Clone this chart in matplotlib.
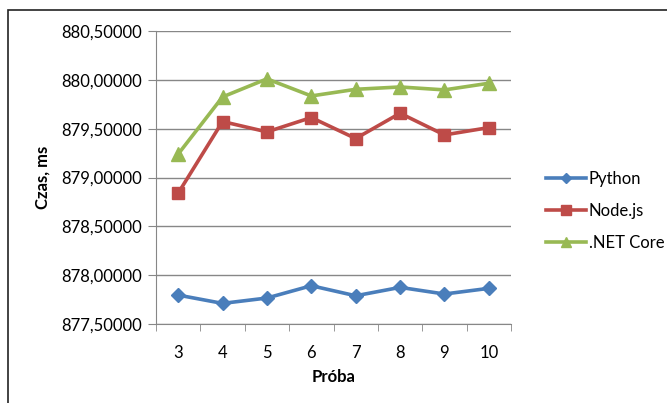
import numpy as np
import matplotlib.pyplot as plt
from matplotlib.patches import Rectangle
from matplotlib.ticker import FixedLocator, FuncFormatter

plt.rcParams['font.family'] = ['Lato', 'DejaVu Sans']

proby = [3, 4, 5, 6, 7, 8, 9, 10]
python_ms = [877.796, 877.711, 877.766, 877.892, 877.789, 877.875, 877.807, 877.865]
node_ms = [878.84, 879.573, 879.467, 879.614, 879.399, 879.658, 879.436, 879.511]
dotnet_ms = [879.24, 879.825, 880.01, 879.835, 879.903, 879.927, 879.897, 879.965]

fig = plt.figure(figsize=(6.67, 4.03), dpi=100)
ax = fig.add_axes([156/667, 1 - 324/403, (511 - 156)/667, (324 - 31)/403])

# ramka wykresu
fig.patches.append(Rectangle((8/667, -0.1), 1.2, 1 - 10/403 + 0.1, transform=fig.transFigure,
                             fill=False, edgecolor='#222222', linewidth=1.2))

x = np.arange(len(proby))
ax.plot(x, python_ms, color='#4A7EBB', lw=2.6, marker='D', ms=7, label='Python')
ax.plot(x, node_ms, color='#BE4B48', lw=2.6, marker='s', ms=9, label='Node.js')
ax.plot(x, dotnet_ms, color='#98B954', lw=2.6, marker='^', ms=9.5, label='.NET Core')

ax.set_xlim(-0.5, len(proby) - 0.5)
ax.set_ylim(877.5, 880.5)
ax.set_yticks(np.arange(877.5, 880.51, 0.5))
ax.yaxis.set_major_formatter(FuncFormatter(lambda v, p: f'{v:.5f}'.replace('.', ',')))
ax.set_xticks(x)
ax.set_xticklabels([str(p) for p in proby])
ax.xaxis.set_minor_locator(FixedLocator(np.arange(-0.5, len(proby), 1.0)))
ax.tick_params(axis='x', which='major', length=0, pad=15, labelsize=12)
ax.tick_params(axis='x', which='minor', length=5, color='#878787')
ax.tick_params(axis='y', length=6, color='#878787', labelsize=12, pad=4)

ax.grid(axis='y', color='#878787', lw=1)
ax.set_axisbelow(True)
for s in ['top', 'right']:
    ax.spines[s].set_visible(False)
for s in ['left', 'bottom']:
    ax.spines[s].set_color('#878787')

ax.set_xlabel('Próba', fontweight='bold', fontsize=12, labelpad=6)
ax.set_ylabel('Czas, ms', fontweight='bold', fontsize=12, labelpad=8)

leg = ax.legend(loc='center left', bbox_to_anchor=(1.055, 0.386), frameon=False, fontsize=12,
                handlelength=2.4, handletextpad=0.2, labelspacing=0.95, markerscale=0.8)

fig.savefig('out.png', dpi=100)
